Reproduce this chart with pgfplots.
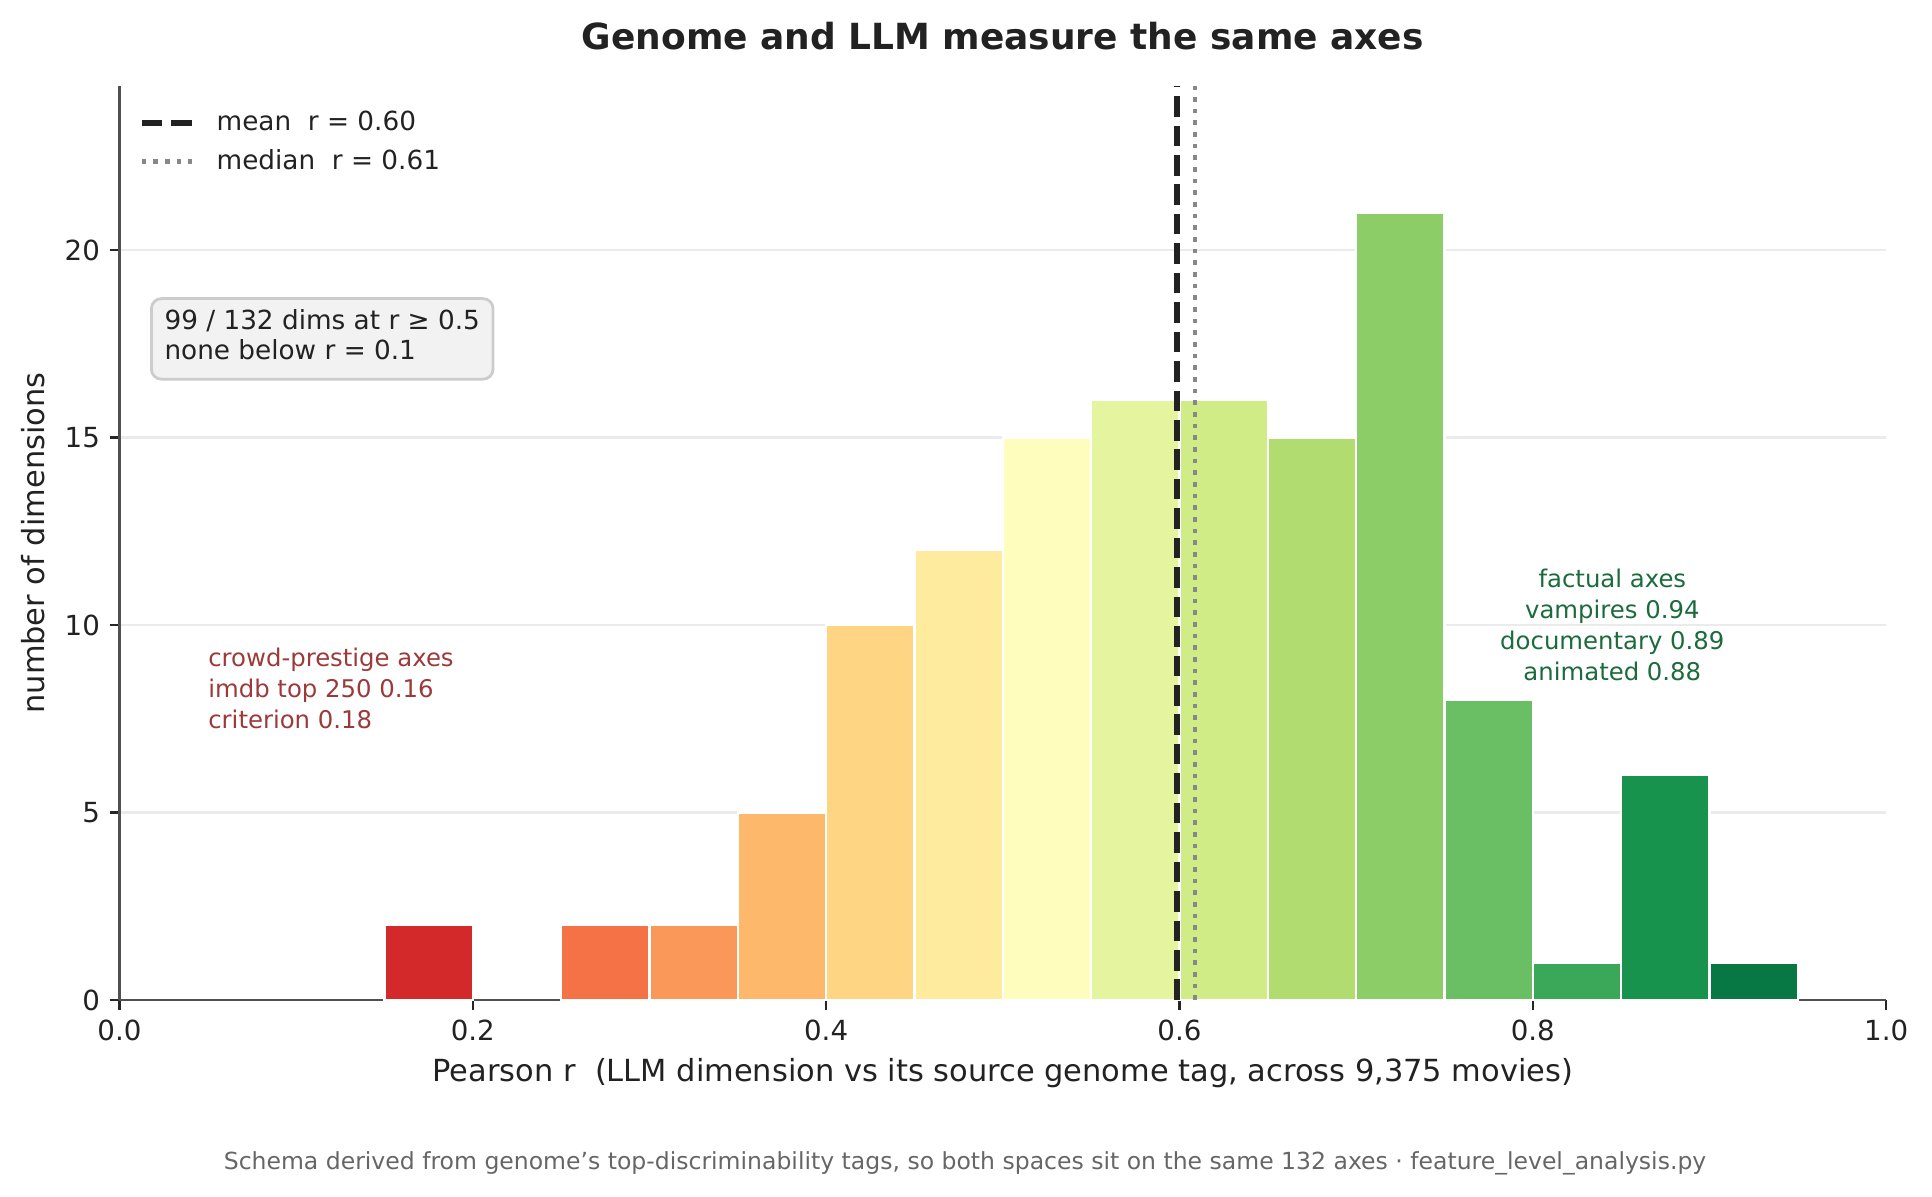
\documentclass[border=0pt]{standalone}
\usepackage{fontspec}
\setmainfont{DejaVu Sans}
\usepackage{pgfplots}
\pgfplotsset{compat=1.18}

% RdYlGn-style bin colours, low r (red) to high r (green)
\definecolor{b15}{HTML}{D3292A}
\definecolor{b25}{HTML}{F47245}
\definecolor{b30}{HTML}{F99858}
\definecolor{b35}{HTML}{FDB86B}
\definecolor{b40}{HTML}{FED683}
\definecolor{b45}{HTML}{FEEB9D}
\definecolor{b50}{HTML}{FEFDBD}
\definecolor{b55}{HTML}{E5F49F}
\definecolor{b60}{HTML}{D0EC86}
\definecolor{b65}{HTML}{B1DC70}
\definecolor{b70}{HTML}{8CCD67}
\definecolor{b75}{HTML}{6ABE63}
\definecolor{b80}{HTML}{3AA858}
\definecolor{b85}{HTML}{17934E}
\definecolor{b90}{HTML}{077844}
\definecolor{spine}{HTML}{505050}
\definecolor{tickc}{HTML}{262626}
\definecolor{textc}{HTML}{222222}
\definecolor{gridc}{HTML}{EBEBEB}
\definecolor{meanc}{HTML}{222222}
\definecolor{medc}{HTML}{888888}
\definecolor{boxfill}{HTML}{F2F2F2}
\definecolor{boxedge}{HTML}{CCCCCC}
\definecolor{lowc}{HTML}{9C3A3A}
\definecolor{highc}{HTML}{1B6B3C}
\definecolor{footc}{HTML}{666666}

\begin{document}
\begin{tikzpicture}
\path[use as bounding box] (-43bp,-70.9bp) rectangle (652.5bp,360bp);
\begin{axis}[
  at={(0,0)}, anchor=south west,
  scale only axis, width=636bp, height=329bp,
  xmin=0, xmax=1, ymin=0, ymax=24.37,
  axis x line*=bottom, axis y line*=left,
  axis line style={draw=spine, line width=1bp, -},
  xtick={0,0.2,0.4,0.6,0.8,1.0},
  xticklabels={0.0,0.2,0.4,0.6,0.8,1.0},
  ytick={0,5,10,15,20},
  yticklabels={0,5,10,15,20},
  tick align=outside, major tick length=3.5bp,
  tick style={draw=tickc, line width=0.8bp},
  ymajorgrids, grid style={draw=gridc, line width=1bp},
  ticklabel style={font=\fontsize{10}{12}\selectfont, text=textc},
  legend style={at={(axis description cs:0.0107,0.982)}, anchor=north west,
    draw=none, fill=none, inner sep=0pt, row sep=2.6bp,
    font=\fontsize{9.5}{11}\selectfont, text=textc,
    nodes={inner sep=0pt}},
  legend cell align=left,
  legend image code/.code={\draw[#1] (0bp,0bp) -- (18bp,0bp); \path (26.0bp,6.2bp);},
]
% histogram bins of width 0.05 (count of dimensions per bin)
\addplot[ybar, bar shift=0pt, bar width=0.05, fill=b15, draw=white, line width=0.8bp, forget plot] coordinates {(0.175,2)};
\addplot[ybar, bar shift=0pt, bar width=0.05, fill=b25, draw=white, line width=0.8bp, forget plot] coordinates {(0.275,2)};
\addplot[ybar, bar shift=0pt, bar width=0.05, fill=b30, draw=white, line width=0.8bp, forget plot] coordinates {(0.325,2)};
\addplot[ybar, bar shift=0pt, bar width=0.05, fill=b35, draw=white, line width=0.8bp, forget plot] coordinates {(0.375,5)};
\addplot[ybar, bar shift=0pt, bar width=0.05, fill=b40, draw=white, line width=0.8bp, forget plot] coordinates {(0.425,10)};
\addplot[ybar, bar shift=0pt, bar width=0.05, fill=b45, draw=white, line width=0.8bp, forget plot] coordinates {(0.475,12)};
\addplot[ybar, bar shift=0pt, bar width=0.05, fill=b50, draw=white, line width=0.8bp, forget plot] coordinates {(0.525,15)};
\addplot[ybar, bar shift=0pt, bar width=0.05, fill=b55, draw=white, line width=0.8bp, forget plot] coordinates {(0.575,16)};
\addplot[ybar, bar shift=0pt, bar width=0.05, fill=b60, draw=white, line width=0.8bp, forget plot] coordinates {(0.625,16)};
\addplot[ybar, bar shift=0pt, bar width=0.05, fill=b65, draw=white, line width=0.8bp, forget plot] coordinates {(0.675,15)};
\addplot[ybar, bar shift=0pt, bar width=0.05, fill=b70, draw=white, line width=0.8bp, forget plot] coordinates {(0.725,21)};
\addplot[ybar, bar shift=0pt, bar width=0.05, fill=b75, draw=white, line width=0.8bp, forget plot] coordinates {(0.775,8)};
\addplot[ybar, bar shift=0pt, bar width=0.05, fill=b80, draw=white, line width=0.8bp, forget plot] coordinates {(0.825,1)};
\addplot[ybar, bar shift=0pt, bar width=0.05, fill=b85, draw=white, line width=0.8bp, forget plot] coordinates {(0.875,6)};
\addplot[ybar, bar shift=0pt, bar width=0.05, fill=b90, draw=white, line width=0.8bp, forget plot] coordinates {(0.925,1)};
% mean and median markers
\addplot[draw=meanc, line width=2bp, dash pattern=on 7.4bp off 3.2bp] coordinates {(0.5986,0) (0.5986,24.37)};
\addlegendentry{mean\ \ r = 0.60}
\addplot[draw=medc, line width=1.7bp, dash pattern=on 1.7bp off 2.5bp] coordinates {(0.6088,0) (0.6088,24.37)};
\addlegendentry{median\ \ r = 0.61}
% callouts for the two tails
\node[anchor=west, align=left, inner sep=0pt, text=lowc, font=\fontsize{8.8}{11.2}\selectfont] at (axis cs:0.05,8.3)
  {crowd-prestige axes\\imdb top 250 0.16\\criterion 0.18};
\node[anchor=center, align=center, inner sep=0pt, text=highc, font=\fontsize{8.8}{11.2}\selectfont] at (axis cs:0.845,10)
  {factual axes\\vampires 0.94\\documentary 0.89\\animated 0.88};
\end{axis}
% summary box
\node[draw=boxedge, fill=boxfill, line width=1bp, rounded corners=3.6bp,
  anchor=north west, inner xsep=4.7bp, inner ysep=0pt,
  minimum width=123bp, minimum height=29bp, text=textc,
  font=\fontsize{9.5}{10.8}\selectfont] at (11bp,253bp)
  {\raisebox{-0.9bp}{\begin{tabular}{@{}l@{}}99 / 132 dims at r ≥ 0.5\\none below r = 0.1\end{tabular}}};
% titles and labels
\node[font=\fontsize{13}{15}\selectfont\bfseries, text=textc] at (318bp,347bp)
  {Genome and LLM measure the same axes};
\node[font=\fontsize{11}{13}\selectfont, text=textc] at (318bp,-26.3bp)
  {Pearson r\ \ (LLM dimension vs its source genome tag, across 9,375 movies)};
\node[font=\fontsize{11}{13}\selectfont, text=textc, rotate=90] at (-31.1bp,164.5bp)
  {number of dimensions};
\node[font=\fontsize{8.5}{10}\selectfont, text=footc] at (304.4bp,-58.7bp)
  {Schema derived from genome’s top-discriminability tags, so both spaces sit on the same 132 axes · feature\_level\_analysis.py};
\end{tikzpicture}
\end{document}
